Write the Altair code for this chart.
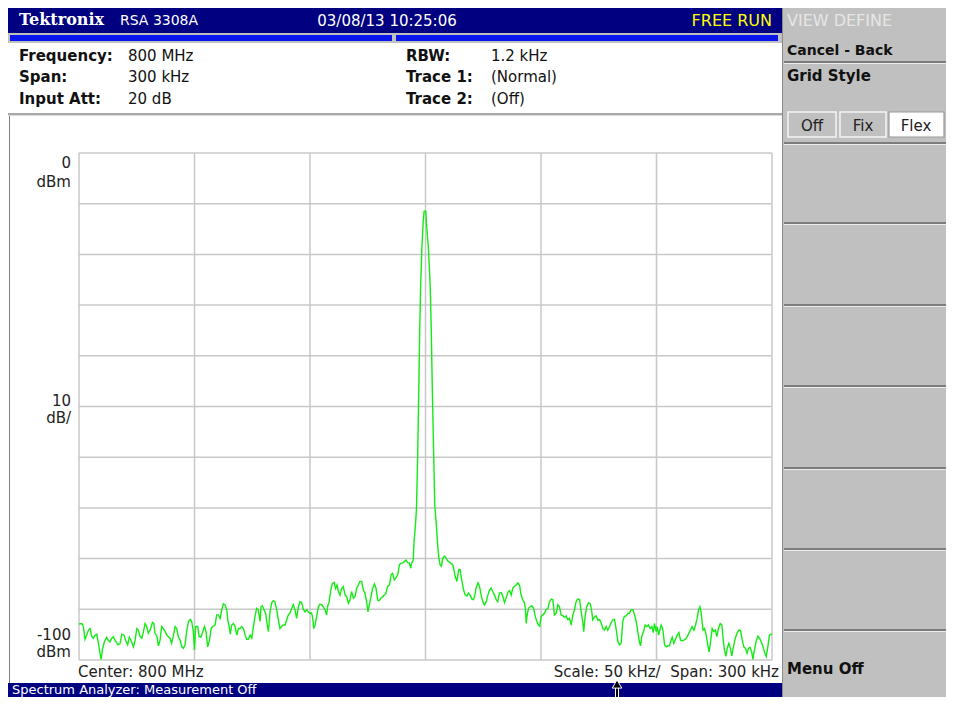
import altair as alt
import pandas as pd

freq_khz = [
    -150.0, -148.8, -148.1, -147.4, -146.7, -145.9, -145.2, -144.5, -143.8, -143.0,
    -142.3, -141.6, -140.9, -140.4, -139.9, -139.0, -138.0, -137.3, -136.6, -135.8,
    -135.1, -134.4, -133.2, -132.2, -131.5, -130.5, -129.8, -128.9, -128.2, -127.5,
    -126.4, -125.7, -125.0, -124.3, -123.6, -122.8, -122.1, -121.4, -120.7, -120.0,
    -119.2, -118.2, -117.6, -117.1, -116.3, -115.6, -114.9, -114.2, -113.5, -112.7,
    -112.0, -111.3, -110.6, -109.9, -109.1, -108.4, -107.7, -107.0, -106.2, -105.5,
    -104.8, -104.1, -103.4, -102.6, -101.9, -101.2, -100.5, -100.0, -99.5, -98.6,
    -98.0, -97.2, -96.4, -95.7, -95.0, -94.3, -93.5, -92.8, -92.1, -91.1,
    -90.4, -89.7, -88.9, -88.2, -87.5, -86.8, -86.0, -85.6, -85.0, -84.5,
    -83.9, -83.2, -82.4, -81.7, -81.0, -80.3, -79.6, -78.8, -78.1, -77.4,
    -76.7, -75.9, -75.2, -74.5, -73.8,
    -73.1, -72.4, -71.6, -71.2, -70.6, -69.9, -69.2, -68.6, -68.0, -67.3,
    -66.6, -65.9, -65.2, -64.4, -63.7, -63.0, -62.3, -61.5, -60.8, -60.1,
    -59.4, -58.7, -57.9, -57.2, -56.5, -55.8, -55.0, -54.3, -53.6, -52.9,
    -52.2, -51.4, -50.7, -50.0, -49.3, -48.8, -48.4, -47.8, -47.1, -46.4,
    -45.7, -44.9, -44.2, -43.5, -42.8, -42.4, -41.8, -41.0, -40.3, -39.6,
    -38.9, -38.3, -37.7, -37.0, -36.3, -35.6, -34.8, -34.1, -33.4, -32.7,
    -32.0, -31.2, -30.5, -29.8, -29.1, -28.4, -27.6, -26.9, -26.2, -25.5,
    -24.9, -24.3, -23.6, -22.9, -22.1, -21.4, -20.7, -20.0, -19.3, -18.5,
    -17.8, -17.1, -16.4, -15.6, -14.9, -14.2, -13.5, -12.8, -12.0, -11.3,
    -10.6, -9.9, -9.2, -8.4, -7.7, -7.0, -6.4, -6.0, -5.3,
    -5.0, -4.4, -3.9, -3.4, -2.9, -2.5, -2.1, -1.6, -1.0, -0.6,
    0.1, 0.4, 1.3, 2.0, 2.5, 2.9, 3.5, 4.0, 4.8, 5.3,
    5.8, 6.3, 6.9, 7.5, 8.2, 8.9, 9.7, 10.4, 11.1, 11.8,
    12.3, 12.8, 13.6, 14.0, 14.4, 15.0, 15.4, 15.9, 16.5, 17.2,
    17.9, 18.6, 19.3, 20.1, 20.8, 21.4, 21.9, 22.7, 23.4, 24.1,
    24.8, 25.5, 26.3, 27.0, 27.7, 28.4, 29.1, 29.9, 30.6, 31.3,
    32.0, 32.8, 33.5, 34.2, 34.9, 35.6, 36.4, 37.1, 37.8, 38.5,
    39.2, 40.0, 40.7, 41.4, 42.1, 42.9, 43.3, 43.6, 44.0, 44.6,
    45.3, 46.0, 46.8, 47.5, 48.2, 48.9, 49.4, 50.1, 50.8, 51.5,
    52.2, 53.0, 53.7, 54.4, 55.1, 55.8, 56.6, 57.3, 58.0, 58.7,
    59.5, 60.2, 60.9, 61.6, 62.3, 63.1, 63.8, 64.5, 65.2, 65.9,
    66.7, 67.4, 68.1, 68.5, 69.1, 69.8, 70.6, 71.3, 72.0, 72.4,
    73.2,
    73.9, 74.6, 75.3, 76.0, 76.8, 77.5, 78.2, 78.9, 79.7, 80.4,
    81.1, 81.8, 82.5, 83.3, 84.0, 84.7, 85.4, 86.1, 86.9, 87.6,
    88.3, 89.0, 89.8, 90.5, 91.2, 91.9, 92.6, 93.1, 93.6, 94.4,
    95.1, 95.8, 96.5, 97.3, 98.0, 98.6, 99.1, 99.9, 100.3, 100.9,
    101.6, 102.0, 102.7, 103.5, 104.2, 104.9, 105.6, 106.3, 106.8, 107.5,
    108.2, 109.0, 109.7, 110.4, 111.1, 111.8, 112.6, 113.3, 114.0, 114.7,
    115.4, 116.2, 116.9, 117.6, 118.2, 118.8, 119.3, 119.8, 120.2, 120.8,
    121.5, 122.2, 122.8, 123.4, 124.1, 124.8, 125.5, 126.1, 126.8, 127.6,
    128.3, 128.9, 129.4, 130.0, 130.6, 131.3, 132.0, 132.6, 133.3, 134.1,
    134.9, 135.6, 136.4, 137.1, 137.8, 138.5, 139.2, 139.8, 140.5, 141.3,
    141.7, 142.4, 143.1, 143.9, 144.6, 145.3, 146.0, 146.7, 147.5, 148.2,
    148.9, 149.6, 150.0,
]

level_dbm = [
    -92.9, -92.8, -93.4, -95.9, -95.1, -94.1, -93.8, -95.3, -95.7, -95.1,
    -94.9, -96.7, -98.7, -99.9, -98.0, -96.4, -95.5, -96.1, -96.4, -95.7,
    -95.4, -96.1, -97.0, -96.7, -94.9, -95.1, -96.1, -97.0, -95.5, -96.1,
    -97.4, -96.1, -93.8, -94.1, -95.3, -95.7, -94.4, -92.8, -93.4, -94.7,
    -94.1, -92.6, -92.8, -94.7, -95.3, -97.2, -96.1, -93.4, -93.8, -94.4,
    -95.1, -95.4, -95.7, -96.7, -95.1, -93.4, -93.8, -95.4, -96.1, -97.4,
    -97.7, -97.0, -94.4, -92.4, -92.0, -92.4, -94.4, -98.0, -93.4, -93.4,
    -95.4, -95.5, -94.4, -93.4, -94.4, -97.4, -96.1, -93.8, -93.4, -93.1,
    -91.1, -91.1, -91.8, -90.1, -88.9, -89.1, -90.1, -92.1, -93.4, -94.9,
    -93.1, -92.8, -93.4, -95.1, -93.8, -93.8, -93.4, -93.8, -95.1, -95.9,
    -95.9, -95.1, -95.7, -93.4, -91.4,
    -89.8, -90.1, -92.4, -89.5, -89.3, -90.1, -90.8, -92.8, -94.4, -90.5,
    -88.7, -88.3, -88.5, -90.1, -92.1, -93.8, -93.4, -93.1, -93.1, -92.1,
    -91.1, -90.8, -89.8, -89.1, -90.1, -91.8, -89.5, -88.5, -88.7, -90.0,
    -90.5, -90.1, -90.5, -90.8, -90.7, -91.8, -93.8, -93.1, -91.4, -89.5,
    -89.0, -89.1, -89.5, -90.1, -91.1, -89.5, -88.7, -86.2, -84.9, -84.7,
    -85.9, -85.2, -86.5, -87.2, -85.9, -85.5, -87.2, -87.5, -88.8, -88.2,
    -86.5, -87.8, -87.5, -85.9, -85.2, -84.5, -84.5, -86.2, -86.8, -88.5,
    -90.5, -89.1, -87.5, -85.9, -85.0, -85.9, -88.2, -88.3, -87.8, -87.5,
    -87.2, -86.8, -85.5, -85.2, -83.2, -82.9, -84.2, -83.8, -83.2, -81.2,
    -80.9, -80.9, -80.6, -80.3, -80.8, -80.9, -81.9, -80.9, -80.3,
    -77.0, -73.7, -70.1, -59.9, -46.4, -34.9, -26.3, -19.1, -13.5, -11.5,
    -11.5, -13.8, -19.1, -25.7, -34.9, -45.4, -58.6, -69.4, -74.0, -77.6,
    -79.9, -81.2, -81.5, -79.9, -79.5, -79.9, -80.5, -80.7, -81.0, -81.2,
    -82.2, -83.5, -84.5, -83.2, -82.2, -82.2, -83.5, -84.8, -86.2, -87.2,
    -87.4, -86.8, -87.2, -88.0, -88.1, -87.2, -85.8, -84.8, -85.5, -87.2,
    -88.5, -89.1, -88.5, -87.2, -86.2, -85.8, -86.5, -87.2, -88.1, -88.5,
    -86.8, -86.7, -87.5, -88.7, -87.8, -86.7, -86.3, -87.2, -85.8, -85.5,
    -85.2, -84.8, -85.2, -87.2, -88.1, -88.8, -90.1, -92.8, -91.1, -89.8,
    -89.5, -89.3, -89.8, -91.4, -92.4, -93.1, -93.3, -91.4, -91.1, -90.8,
    -90.1, -89.8, -88.5, -88.0, -88.1, -91.1, -90.8, -89.1, -89.5, -91.1,
    -91.3, -91.6, -91.3, -92.0, -91.8, -93.1, -91.1, -90.1, -88.5, -88.0,
    -88.1, -90.5, -92.5, -94.4, -91.4, -89.5, -88.7, -88.9, -90.5, -92.1,
    -91.5,
    -91.3, -92.2, -92.0, -92.6, -93.8, -94.1, -93.4, -94.1, -93.4, -92.6,
    -92.1, -92.0, -93.8, -96.4, -97.0, -96.7, -92.4, -91.4, -91.3, -90.8,
    -90.8, -90.1, -90.1, -91.1, -92.4, -94.4, -96.4, -97.2, -95.4, -94.4,
    -93.1, -93.4, -93.1, -93.8, -93.4, -94.6, -92.8, -94.4, -93.4, -95.1,
    -93.8, -93.1, -93.8, -97.0, -97.4, -97.2, -97.2, -96.1, -95.5, -96.7,
    -95.9, -95.1, -94.6, -96.1, -96.2, -96.1, -95.9, -95.4, -94.7, -94.1,
    -93.4, -94.1, -93.1, -91.8, -90.1, -89.5, -90.5, -92.8, -94.1, -93.8,
    -95.1, -97.0, -98.4, -96.4, -93.8, -94.4, -94.1, -95.4, -93.8, -92.8,
    -93.1, -96.1, -98.0, -99.3, -97.7, -96.7, -97.7, -99.2, -97.4, -95.7,
    -94.7, -94.1, -94.2, -96.1, -97.4, -97.7, -98.7, -97.7, -97.5, -98.6,
    -99.9, -98.0, -96.4, -95.3, -95.7, -96.4, -97.2, -98.4, -99.3, -97.4,
    -95.1, -94.9, -95.0,
]

freq_grid_khz = [-150, -100, -50, 0, 50, 100, 150]          # 50 kHz / div
level_grid_dbm = [0, -10, -20, -30, -40, -50, -60, -70, -80, -90, -100]  # 10 dB / div

header_left = "Tektronix"
header_model = "RSA 3308A"
header_time = "03/08/13 10:25:06"
header_state = "FREE RUN"
info_left = [("Frequency:", "800 MHz"), ("Span:", "300 kHz"), ("Input Att:", "20 dB")]
info_right = [("RBW:", "1.2 kHz"), ("Trace 1:", "(Normal)"), ("Trace 2:", "(Off)")]
softkeys = ["VIEW DEFINE", "Cancel - Back", "Grid Style", "Menu Off"]
grid_buttons = ["Off", "Fix", "Flex"]

# ---------------- layout helpers (page pixel positions) ----------------
W, H = 693, 507
PAD_L, PAD_T = 71, 145
X0, Y0 = 8 + PAD_L, 8 + PAD_T          # page position of plot origin
FONT = "DejaVu Sans"
NAVY = "#000080"
PANEL = "#c0c0c0"

one = pd.DataFrame({"k": [0]})


def box(x1, y1, x2, y2, color, **kw):
    return alt.Chart(one).mark_rect(color=color, **kw).encode(
        x=alt.value(x1 - X0), x2=alt.value(x2 - X0),
        y=alt.value(y1 - Y0), y2=alt.value(y2 - Y0))


def label(x, y, s, size=15, weight="normal", color="#111111", align="left", font=FONT):
    return alt.Chart(one).mark_text(
        text=s, align=align, baseline="alphabetic", fontSize=size,
        fontWeight=weight, color=color, font=font).encode(
        x=alt.value(x - X0), y=alt.value(y - Y0))


xs = alt.Scale(domain=[-150, 150], nice=False, zero=False)
ys = alt.Scale(domain=[-100, 0], nice=False, zero=False)

layers = []
# instrument frame
layers += [
    box(8, 8, 782, 33, NAVY),
    box(8, 33, 782, 43, PANEL),
    box(10, 35, 392, 41, "#0814ee"),
    box(396, 35, 778, 41, "#0814ee"),
    box(8, 113, 782, 115, "#a8a8a8"),
    box(8, 115, 782, 116, "#dcdcdc"),
    box(9, 116, 10, 683, "#808080"),
    box(8, 683, 782, 697, NAVY),
    box(782, 8, 946, 697, PANEL),
    box(782, 8, 783, 697, "#8a8a8a"),
]
for sy in [61, 142, 222, 304, 385, 467, 548, 629]:
    layers.append(box(784, sy, 946, sy + 2, "#7c7c7c"))
    layers.append(box(784, sy + 2, 946, sy + 3, "#ececec"))
layers += [
    box(788, 112, 836, 137, PANEL, stroke="#f4f4f4", strokeWidth=1.5),
    box(840, 112, 886, 137, PANEL, stroke="#f4f4f4", strokeWidth=1.5),
    box(889, 112, 944, 137, "#ffffff", stroke="#9a9a9a", strokeWidth=1.2),
]

# graticule
layers.append(alt.Chart(pd.DataFrame({"f": freq_grid_khz})).mark_rule(
    color="#c8c8c8", strokeWidth=1.5).encode(x=alt.X("f:Q", scale=xs, axis=None)))
layers.append(alt.Chart(pd.DataFrame({"l": level_grid_dbm})).mark_rule(
    color="#c8c8c8", strokeWidth=1.5).encode(y=alt.Y("l:Q", scale=ys, axis=None)))

# trace
trace = pd.DataFrame({"freq_khz": freq_khz, "level_dbm": level_dbm})
layers.append(alt.Chart(trace).mark_line(color="#14ea14", strokeWidth=1.4).encode(
    x=alt.X("freq_khz:Q", scale=xs, axis=None),
    y=alt.Y("level_dbm:Q", scale=ys, axis=None)))

# header texts
layers += [
    label(19, 25, header_left, size=16, weight="bold", color="white", font="DejaVu Serif"),
    label(120, 25, header_model, size=14, color="white"),
    label(387, 26, header_time, size=15, color="white", align="center"),
    label(772, 26, header_state, size=16, color="#ffff00", align="right"),
]
for i, (k, v) in enumerate(info_left):
    yb = [61, 82, 104][i]
    layers.append(label(19, yb, k, weight="bold"))
    layers.append(label(128, yb, v))
for i, (k, v) in enumerate(info_right):
    yb = [61, 82, 104][i]
    layers.append(label(406, yb, k, weight="bold"))
    layers.append(label(491, yb, v))

# scale annotations
layers += [
    label(71, 168, "0", align="right", color="#222222"),
    label(71, 187, "dBm", align="right", color="#222222"),
    label(71, 406, "10", align="right", color="#222222"),
    label(71, 423, "dB/", align="right", color="#222222"),
    label(71, 640, "-100", align="right", color="#222222"),
    label(71, 657, "dBm", align="right", color="#222222"),
    label(78, 677, "Center: 800 MHz", color="#222222"),
    label(779, 677, "Scale: 50 kHz/\u00a0\u00a0Span: 300 kHz", align="right", color="#222222"),
    label(12, 694, "Spectrum Analyzer: Measurement Off", size=13, color="white"),
]

# soft keys
layers += [
    label(787, 26, softkeys[0], size=16, color="#e6e6e6"),
    label(787, 55, softkeys[1], size=14, weight="bold"),
    label(787, 81, softkeys[2], size=15, weight="bold"),
    label(787, 674, softkeys[3], size=15, weight="bold"),
    label(812, 131, grid_buttons[0], align="center", color="#222222"),
    label(863, 131, grid_buttons[1], align="center", color="#222222"),
    label(916, 131, grid_buttons[2], align="center", color="#222222"),
]

# marker arrow
layers.append(alt.Chart(one).mark_rule(color="white", strokeWidth=4).encode(
    x=alt.value(617 - X0), y=alt.value(686 - Y0), y2=alt.value(697 - Y0)))
layers.append(alt.Chart(one).mark_rule(color="black", strokeWidth=2).encode(
    x=alt.value(617 - X0), y=alt.value(686 - Y0), y2=alt.value(697 - Y0)))
layers.append(alt.Chart(one).mark_point(
    shape="triangle-up", filled=True, color="black", stroke="white",
    strokeWidth=1, size=90, opacity=1).encode(
    x=alt.value(617 - X0), y=alt.value(684 - Y0)))

chart = alt.layer(*layers).properties(
    width=W, height=H,
    padding={"left": PAD_L, "top": PAD_T, "right": 938 - PAD_L - W, "bottom": 689 - PAD_T - H},
    autosize=alt.AutoSizeParams(type="none"),
    background="white",
).configure_view(stroke=None)

chart.save("out.html", embed_options={"renderer": "svg", "actions": False})
